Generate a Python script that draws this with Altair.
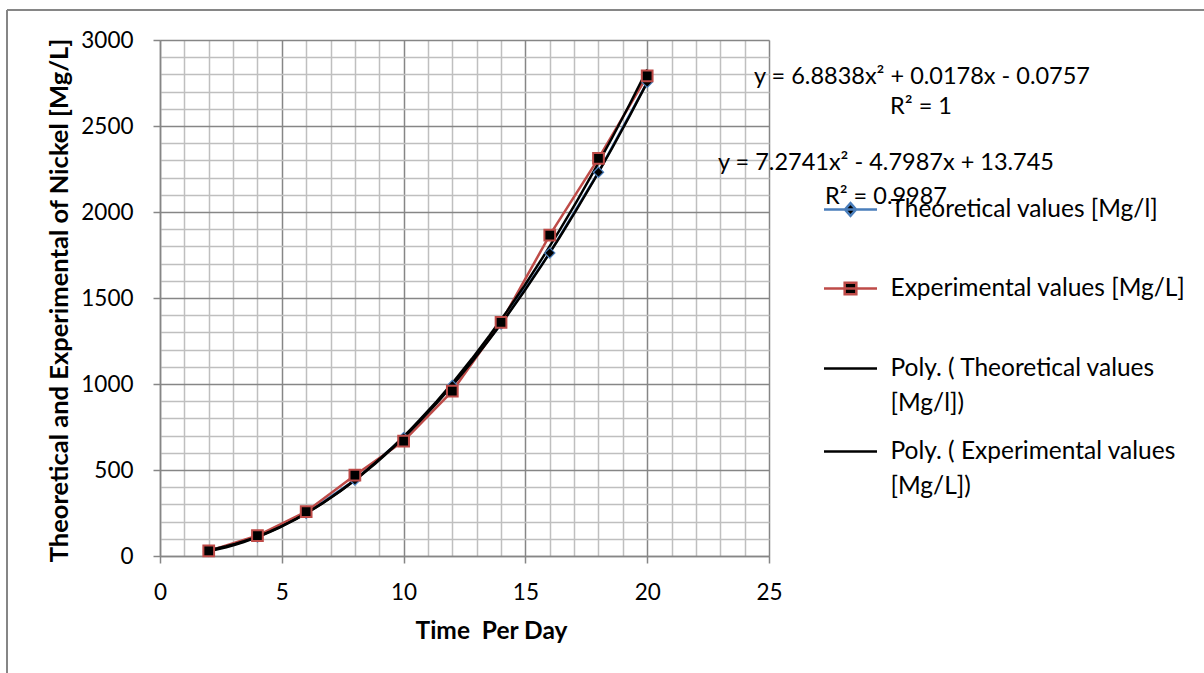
import altair as alt
import pandas as pd

# ---- data ----
days = [2, 4, 6, 8, 10, 12, 14, 16, 18, 20]
theoretical = [28, 110, 248, 441, 688, 991, 1349, 1762, 2231, 2754]
experimental = [30, 118, 258, 470, 668, 958, 1358, 1866, 2312, 2792]

series_names = ["Theoretical values [Mg/l]", "Experimental values [Mg/L]"]
trend_names = ["Poly. ( Theoretical values [Mg/l])", "Poly. ( Experimental values [Mg/L])"]
wrapped_labels = {
    "Poly. ( Theoretical values [Mg/l])": ["Poly. ( Theoretical values", "[Mg/l])"],
    "Poly. ( Experimental values [Mg/L])": ["Poly. ( Experimental values", "[Mg/L])"],
}
equations = [
    "y = 6.8838x² + 0.0178x - 0.0757",
    "R² = 1",
    "y = 7.2741x² - 4.7987x + 13.745",
    "R² = 0.9987",
]
x_grid = list(range(0, 26))
y_grid = list(range(0, 3001, 100))
x_title = "Time\u00a0 Per Day"
y_title = "Theoretical and Experimental of Nickel [Mg/L]"

# ---- styles ----
BLUE = "#4A7EBB"
RED = "#BE4B48"
MAJOR = "#868686"
MINOR = "#BFBFBF"
FONT = "Lato"
FS_TICK = 22.5
FS_XTITLE = 24.5
FS_YTITLE = 25.5
FS_LEG = 24.5
FS_EQ = 23.5

df = pd.DataFrame({
    "day": days * 2,
    "value": theoretical + experimental,
    "series": [series_names[0]] * len(days) + [series_names[1]] * len(days),
})

W, H = 609, 516

x_axis = alt.Axis(
    values=x_grid,
    grid=True,
    gridColor={"condition": {"test": "datum.value % 5 === 0", "value": MAJOR}, "value": MINOR},
    gridWidth=1.5,
    domainColor=MAJOR, domainWidth=1.5,
    tickColor={"condition": {"test": "datum.value % 5 === 0", "value": MAJOR}, "value": "transparent"},
    tickSize=7, tickWidth=1.5,
    labelExpr="datum.value % 5 === 0 ? datum.label : ''",
    labelOverlap=False, labelFlush=False,
    labelFont=FONT, labelFontSize=FS_TICK, labelColor="black",
    labelBaseline="middle", labelPadding=29,
    title=x_title, titleFont=FONT, titleFontSize=FS_XTITLE, titleFontWeight="bold", titleColor="black",
    titleBaseline="alphabetic", titleAlign="center", titleX=331, titleY=82,
)
y_axis = alt.Axis(
    values=y_grid,
    grid=True,
    gridColor={"condition": {"test": "datum.value % 500 === 0", "value": MAJOR}, "value": MINOR},
    gridWidth=1.5,
    domainColor=MAJOR, domainWidth=1.5,
    tickColor={"condition": {"test": "datum.value % 500 === 0", "value": MAJOR}, "value": "transparent"},
    tickSize=7, tickWidth=1.5,
    labelExpr="datum.value % 500 === 0 ? datum.label : ''",
    labelOverlap=False, labelFlush=False,
    labelFont=FONT, labelFontSize=FS_TICK, labelColor="black", labelPadding=20,
    format="d",
    title=y_title, titleFont=FONT, titleFontSize=FS_YTITLE, titleFontWeight="bold", titleColor="black",
    titleAngle=270, titleBaseline="alphabetic", titleAlign="center", titleX=-93, titleY=260,
)

xs = alt.Scale(domain=[0, 25], nice=False, zero=False)
ys = alt.Scale(domain=[0, 3000], nice=False, zero=False)

base = alt.Chart(df)
X = alt.X("day:Q", scale=xs, axis=x_axis)
Y = alt.Y("value:Q", scale=ys, axis=y_axis)

theo_line = base.transform_filter(alt.datum.series == series_names[0]).mark_line(
    color=BLUE, strokeWidth=2.5).encode(x=X, y=Y)
exp_line = base.transform_filter(alt.datum.series == series_names[1]).mark_line(
    color=RED, strokeWidth=2.5).encode(x=X, y=Y)
trend = base.transform_regression(
    "day", "value", groupby=["series"], method="poly", order=2
).mark_line(color="black", strokeWidth=2.5).encode(x=X, y=Y, detail="series:N")
diamonds = base.transform_filter(alt.datum.series == series_names[0]).mark_point(
    shape="diamond", filled=True, fill="black", stroke=BLUE, strokeWidth=1.2, size=105, opacity=1
).encode(x=X, y=Y)
squares = base.transform_filter(alt.datum.series == series_names[1]).mark_point(
    shape="square", filled=True, fill="black", stroke=RED, strokeWidth=2, size=115, opacity=1
).encode(x=X, y=Y)

# ---- legends ----
sym_paths = [
    "M-1,0H1M0,-0.24L0.21,0L0,0.24L-0.21,0Z",
    "M-1,0H1M-0.22,-0.22H0.22V0.22H-0.22Z",
]
label_expr = ""
for k, v in wrapped_labels.items():
    label_expr += "datum.label == '%s' ? [%s] : " % (k, ", ".join("'%s'" % s for s in v))
label_expr += "datum.label"

common_leg = dict(
    title=None, orient="none", padding=0, symbolOffset=0, labelOffset=12,
    labelFont=FONT, labelFontSize=FS_LEG, labelColor="black", labelLimit=600,
    symbolSize=2809, symbolStrokeWidth=2.5, symbolOpacity=1,
)
leg_a = alt.Legend(legendX=662.5, legendY=141.5, rowPadding=39, **common_leg)
leg_b = alt.Legend(legendX=662.5, legendY=300.5, rowPadding=8, labelExpr=label_expr,
                   symbolType="M-1,0H1", symbolStrokeColor="black", symbolFillColor="transparent",
                   **common_leg)

legend_a = alt.Chart(pd.DataFrame({"series": series_names})).transform_filter("false").mark_point(
    opacity=1
).encode(
    stroke=alt.Stroke("series:N", scale=alt.Scale(domain=series_names, range=[BLUE, RED]), legend=leg_a),
    fill=alt.Fill("series:N", scale=alt.Scale(domain=series_names, range=["black", "black"]), legend=leg_a),
    shape=alt.Shape("series:N", scale=alt.Scale(domain=series_names, range=sym_paths), legend=leg_a),
)
legend_b = alt.Chart(pd.DataFrame({"trend": trend_names})).transform_filter("false").mark_point(
    opacity=1
).encode(
    opacity=alt.Opacity("trend:N", scale=alt.Scale(domain=trend_names, range=[1, 1]), legend=leg_b),
)

# ---- equation labels (pixel positions relative to the plot area) ----
eq_pos = [(762, 37), (761, 67), (726, 123), (726, 157)]
eq_layers = []
for txt, (px, py) in zip(equations, eq_pos):
    eq_layers.append(
        alt.Chart(pd.DataFrame({"eq": [txt]})).mark_text(
            font=FONT, fontSize=FS_EQ, color="black", align="center", baseline="middle"
        ).encode(text="eq:N", x=alt.value(px), y=alt.value(py))
    )

# ---- outer chart border ----
one = pd.DataFrame({"a": [0]})
border_v = alt.Chart(one).mark_rule(color=MAJOR, strokeWidth=2).encode(
    x=alt.value(-153), y=alt.value(-30), y2=alt.value(700))
border_h = alt.Chart(one).mark_rule(color=MAJOR, strokeWidth=2).encode(
    x=alt.value(-153), x2=alt.value(1100), y=alt.value(-30))

chart = alt.layer(
    theo_line, exp_line, trend, diamonds, squares, legend_a, legend_b, *eq_layers, border_v, border_h
).properties(
    width=W, height=H,
    padding={"left": 160, "top": 40, "right": 435, "bottom": 117},
    autosize=alt.AutoSizeParams(type="none"),
).configure_view(stroke="transparent").configure(
    style={"guide-label": {"lineHeight": 35}}
)

chart.save("out.html", embed_options={"renderer": "svg", "actions": False})
